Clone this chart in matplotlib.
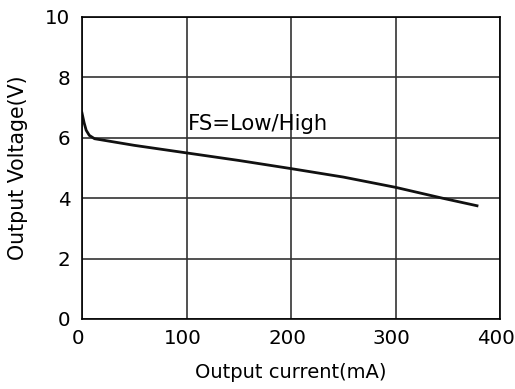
import matplotlib
matplotlib.use("Agg")
import matplotlib.pyplot as plt
from matplotlib.transforms import ScaledTranslation

current = [0, 2, 4, 7, 12, 50, 100, 150, 200, 250, 300, 345, 378]
voltage = [6.82, 6.5, 6.25, 6.08, 5.97, 5.75, 5.5, 5.25, 4.98, 4.7, 4.36, 4.0, 3.75]
xticks = [0, 100, 200, 300, 400]
yticks = [0, 2, 4, 6, 8, 10]

plt.rcParams['font.family'] = ['DejaVu Sans']
fig = plt.figure(figsize=(5.15, 3.89), dpi=100)
ax = fig.add_axes([82/515, 1-319/389, (500-82)/515, (319-17)/389])
ax.set_xlim(0, 400)
ax.set_ylim(0, 10)
ax.set_xticks(xticks)
ax.set_yticks(yticks)
ax.grid(True, color='#333333', linewidth=1.2)
ax.tick_params(length=0, labelsize=14.3)
ax.tick_params(axis='x', pad=7)
ax.tick_params(axis='y', pad=8.5)
for lab in ax.get_xticklabels():
    lab.set_transform(lab.get_transform() + ScaledTranslation(-4/100, 0, fig.dpi_scale_trans))
ax.plot(current, voltage, color='#111111', linewidth=2)
ax.text(101, 6.45, 'FS=Low/High', fontsize=15.2, ha='left', va='center')
ax.set_xlabel('Output current(mA)', fontsize=14, labelpad=11)
ax.set_ylabel('Output Voltage(V)', fontsize=14.8, labelpad=12)
for s in ax.spines.values():
    s.set_linewidth(1.2)
fig.savefig('out.png', dpi=100)
